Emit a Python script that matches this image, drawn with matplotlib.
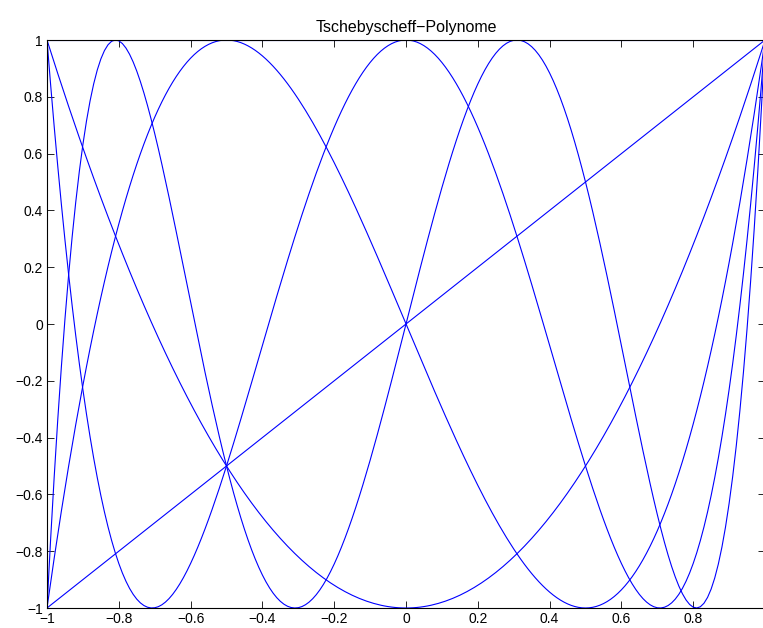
import numpy as np
import matplotlib
matplotlib.use("Agg")
import matplotlib.pyplot as plt

# Tschebyscheff-Polynome T0..T5, Koeffizienten (hoechste Potenz zuerst)
t0 = [1]
t1 = [1, 0]
t2 = [2, 0, -1]
t3 = [4, 0, -3, 0]
t4 = [8, 0, -8, 0, 1]
t5 = [16, 0, -20, 0, 5, 0]
polys = [t0, t1, t2, t3, t4, t5]

x = np.linspace(-1, 1, 201)
xticks = [-1, -0.8, -0.6, -0.4, -0.2, 0, 0.2, 0.4, 0.6, 0.8]
yticks = [-1, -0.8, -0.6, -0.4, -0.2, 0, 0.2, 0.4, 0.6, 0.8, 1]

plt.rcParams['font.family'] = ['Liberation Sans', 'DejaVu Sans']
fig = plt.figure(figsize=(7.63, 6.28), dpi=100)
ax = fig.add_axes([47 / 763, 20 / 628, 718 / 763, 568 / 628])

for c in polys:
    ax.plot(x, np.polyval(c, x) * np.ones_like(x), color='#0000ff', linewidth=0.8)

ax.set_xlim(-1, 1)
ax.set_ylim(-1, 1)
ax.set_xticks(xticks)
ax.set_yticks(yticks)
ax.set_xticklabels([f"{v:g}".replace('-', '\u2212') for v in xticks])
ax.set_yticklabels([f"{v:g}".replace('-', '\u2212') for v in yticks])
ax.tick_params(direction='in', top=True, right=True, length=5, width=0.6,
               labelsize=10, pad=3)
for s in ax.spines.values():
    s.set_linewidth(0.8)
ax.set_title('Tschebyscheff\u2212Polynome', fontsize=11.5, pad=6)

fig.savefig('out.png', dpi=100)
